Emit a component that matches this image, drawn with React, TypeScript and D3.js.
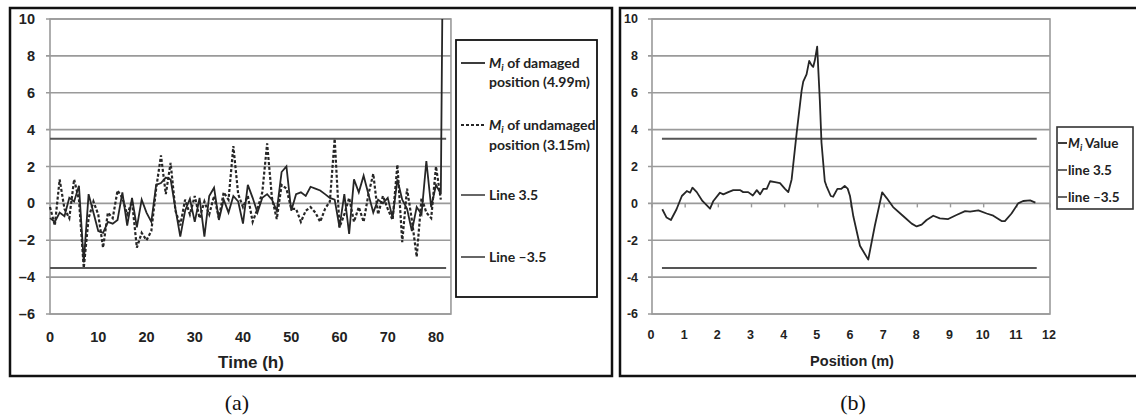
import React from "react";
import * as d3 from "d3";

// ---------- Data: chart (a) ----------
const hoursA: number[] = [
  0, 1, 2, 3, 4, 5, 6, 7, 8, 9, 10, 11, 12, 13, 14, 15, 16, 17, 18, 19, 20,
  21, 22, 23, 24, 25, 26, 27, 28, 29, 30, 31, 32, 33, 34, 35, 36, 37, 38, 39, 40,
  41, 42, 43, 44, 45, 46, 47, 48, 49, 50, 51, 52, 53, 54, 55, 56, 57, 58, 59, 60,
  61, 62, 63, 64, 65, 66, 67, 68, 69, 70, 71, 72, 73, 74, 75, 76, 77, 78, 79, 80, 81,
];
const damagedMi: number[] = [
  -0.8, -1.0, -0.5, -0.7, 0.3, 0.1, 0.95, -3.2, 0.5, -0.5, -1.5, -1.6, -1.0, -1.1,
  -0.9, 0.6, -1.2, 0.3, -1.3, 0.2, -0.5, -1.0, 1.0, 1.1, 1.4, 1.3, -0.3, -1.8,
  -0.4, 0.25, -1.0, 0.3, -1.8, 0.4, 0.85, -0.9, 0.2, -0.5, 0.4, 0.1, -1.1, 1.0,
  0.3, -0.5, 0.3, 0.5, 0.2, -0.4, 1.7, 2.0, -0.4, 0.5, 0.6, 0.4, 0.9, 0.8, 0.7,
  0.5, 0.3, 0.2, -1.3, 0.5, -1.65, 1.3, 0.6, 1.5, 0.5, -0.5, 0.2, 0.0, 0.3, -0.8,
  1.3, 0.2, -0.3, -1.5, -0.2, -0.6, 2.3, -0.2, 1.0, 0.5,
];
// final spike of the damaged series at the right edge
const damagedTailHour: number[] = [81.3];
const damagedTailValue: number[] = [10];
const undamagedMi: number[] = [
  -0.2, -1.2, 1.3, -0.3, -0.8, 1.3, 0.2, -3.5, -0.8, 0.1, -0.6, -2.4, -0.5, -0.8,
  0.7, 0.3, -0.6, 0.1, -2.4, -1.6, -2.0, -1.5, 0.8, 2.6, 0.5, 2.2, -0.4, -1.2,
  0.2, -0.6, 0.4, -0.8, 0.1, -0.6, 0.4, -0.8, 0.6, 0.2, 3.1, 0.5, -0.2, 0.4,
  -1.0, -0.3, 0.6, 3.25, 0.3, -0.85, 1.0, 0.8, -0.3, -0.3, -1.0, -0.4, -0.2,
  -0.5, -1.0, -0.3, 0.1, 3.5, -1.3, -0.6, 0.3, -1.0, -0.2, -1.0, 0.5, 1.6, -0.6,
  0.4, -0.3, -0.9, 2.1, -2.1, 0.8, -0.9, -2.9, 0.3, -0.5, -0.8, 2.0, 0.2,
];
const thresholdSpanA: number[] = [0, 82.1];
const xTicksA: number[] = [0, 10, 20, 30, 40, 50, 60, 70, 80];
const yTicks: number[] = [-6, -4, -2, 0, 2, 4, 6, 8, 10];
const thresholds: number[] = [3.5, -3.5];

// ---------- Data: chart (b) ----------
const positionsB: number[] = [
  0.31, 0.44, 0.57, 0.74, 0.9, 1.05, 1.15, 1.22, 1.35, 1.52, 1.75, 1.85, 2.05,
  2.15, 2.3, 2.45, 2.65, 2.75, 2.9, 3.04, 3.16, 3.26, 3.36, 3.46, 3.56, 3.71,
  3.86, 4.01, 4.11, 4.21, 4.36, 4.51, 4.56, 4.66, 4.74, 4.81, 4.86, 4.91, 4.98,
  5.06, 5.11, 5.21, 5.26, 5.39, 5.46, 5.59, 5.71, 5.81, 5.9, 5.97, 6.07, 6.27,
  6.52, 6.72, 6.94, 7.07, 7.27, 7.58, 7.83, 7.98, 8.13, 8.28, 8.48, 8.68, 8.93,
  9.18, 9.44, 9.59, 9.84, 10.09, 10.29, 10.54, 10.64, 10.84, 11.04, 11.19, 11.4,
  11.56,
];
const miValues: number[] = [
  -0.32, -0.77, -0.9, -0.32, 0.4, 0.67, 0.58, 0.85, 0.61, 0.13, -0.29, 0.13, 0.58,
  0.49, 0.61, 0.72, 0.72, 0.61, 0.61, 0.43, 0.72, 0.49, 0.79, 0.79, 1.2, 1.15,
  1.1, 0.79, 0.61, 1.3, 3.8, 6.1, 6.6, 7.0, 7.73, 7.5, 7.4, 7.76, 8.5, 5.6, 3.3,
  1.2, 0.94, 0.4, 0.36, 0.79, 0.79, 0.94, 0.8, 0.4, -0.7, -2.3, -3.05, -1.2, 0.6,
  0.3, -0.2, -0.7, -1.1, -1.25, -1.15, -0.9, -0.67, -0.81, -0.85, -0.63, -0.42,
  -0.45, -0.38, -0.55, -0.67, -0.96, -0.96, -0.55, 0.0, 0.13, 0.16, 0.04,
];
const thresholdSpanB: number[] = [0.3, 11.6];
const xTicksB: number[] = [0, 1, 2, 3, 4, 5, 6, 7, 8, 9, 10, 11, 12];

const TICK_FONT = "'Liberation Sans', Arial, sans-serif";
const LEG_FONT = "Lato, 'Liberation Sans', sans-serif";
const SERIES = "#262626";
const GRID = "#9a9a9a";
const THR = "#555";

function Mi({ size }: { size: number }) {
  return (
    <>
      <tspan fontStyle="italic">M</tspan>
      <tspan fontStyle="italic" fontSize={size * 0.7} dy={3}>i</tspan>
      <tspan dy={-3}> </tspan>
    </>
  );
}

export default function App() {
  // chart (a) scales
  const xA = d3.scaleLinear().domain([0, 80]).range([50, 436]);
  const yA = d3.scaleLinear().domain([-6, 10]).range([314, 19]);
  const lineA = d3
    .line<[number, number]>()
    .x((d) => xA(d[0]))
    .y((d) => yA(d[1]));
  const dmgPts: [number, number][] = hoursA.map((h, i) => [h, damagedMi[i]]);
  damagedTailHour.forEach((h, i) => dmgPts.push([h, damagedTailValue[i]]));
  const undPts: [number, number][] = hoursA.map((h, i) => [h, undamagedMi[i]]);
  const plotRightA = xA(83.1);

  // chart (b) scales
  const xB = d3.scaleLinear().domain([0, 12]).range([652, 1050]);
  const yB = d3.scaleLinear().domain([-6, 10]).range([314, 19]);
  const lineB = d3
    .line<[number, number]>()
    .x((d) => xB(d[0]))
    .y((d) => yB(d[1]));
  const miPts: [number, number][] = positionsB.map((p, i) => [p, miValues[i]]);

  const legA = 14;
  const legB = 13.5;

  return (
    <svg width={1136} height={418} style={{ position: "absolute", left: 0, top: 0 }}>
      <rect x={0} y={0} width={1136} height={418} fill="#fff" />

      {/* ---------- Chart (a) ---------- */}
      <rect x={10} y={8} width={602} height={368} fill="none" stroke="#111" strokeWidth={2.5} />
      {yTicks.map((t) => (
        <line key={"ga" + t} x1={xA(0) - 4} x2={plotRightA} y1={yA(t)} y2={yA(t)} stroke={GRID} strokeWidth={1.6} />
      ))}
      <rect x={xA(0)} y={yA(10)} width={plotRightA - xA(0)} height={yA(-6) - yA(10)} fill="none" stroke={GRID} strokeWidth={1.6} />
      {thresholds.map((t) => (
        <line key={"ta" + t} x1={xA(thresholdSpanA[0])} x2={xA(thresholdSpanA[1])} y1={yA(t)} y2={yA(t)} stroke={THR} strokeWidth={2} />
      ))}
      <path d={lineA(undPts) || ""} fill="none" stroke={SERIES} strokeWidth={2.2} strokeDasharray="3,2" />
      <path d={lineA(dmgPts) || ""} fill="none" stroke={SERIES} strokeWidth={1.8} />
      {yTicks.map((t) => (
        <text key={"ya" + t} x={35} y={yA(t)} dy="0.35em" textAnchor="end" fontFamily={TICK_FONT} fontWeight="bold" fontSize={14.5} fill="#222">
          {t < 0 ? "\u2013" + Math.abs(t) : t}
        </text>
      ))}
      {xTicksA.map((t) => (
        <text key={"xa" + t} x={xA(t)} y={337} dy="0.35em" textAnchor="middle" fontFamily={TICK_FONT} fontWeight="bold" fontSize={14.5} fill="#222">
          {t}
        </text>
      ))}
      <text x={251} y={362} dy="0.35em" textAnchor="middle" fontFamily={TICK_FONT} fontWeight="bold" fontSize={17} fill="#222">
        Time (h)
      </text>

      {/* legend (a) */}
      <rect x={456} y={40} width={141} height={257} fill="#fff" stroke="#111" strokeWidth={1.8} />
      <line x1={461} x2={485} y1={63} y2={63} stroke={SERIES} strokeWidth={1.8} />
      <text x={489} y={63} dy="0.35em" fontFamily={LEG_FONT} fontWeight="bold" fontSize={legA} fill="#222">
        <Mi size={legA} />of damaged
      </text>
      <text x={489} y={82} dy="0.35em" fontFamily={LEG_FONT} fontWeight="bold" fontSize={legA} fill="#222">
        position (4.99m)
      </text>
      <line x1={461} x2={485} y1={125} y2={125} stroke={SERIES} strokeWidth={1.8} strokeDasharray="3,2" />
      <text x={489} y={125} dy="0.35em" fontFamily={LEG_FONT} fontWeight="bold" fontSize={legA} fill="#222">
        <Mi size={legA} />of undamaged
      </text>
      <text x={489} y={145} dy="0.35em" fontFamily={LEG_FONT} fontWeight="bold" fontSize={legA} fill="#222">
        position (3.15m)
      </text>
      <line x1={461} x2={485} y1={195} y2={195} stroke={THR} strokeWidth={1.8} />
      <text x={489} y={195} dy="0.35em" fontFamily={LEG_FONT} fontWeight="bold" fontSize={legA} fill="#222">
        Line 3.5
      </text>
      <line x1={461} x2={485} y1={257} y2={257} stroke={THR} strokeWidth={1.8} />
      <text x={489} y={257} dy="0.35em" fontFamily={LEG_FONT} fontWeight="bold" fontSize={legA} fill="#222">
        Line {"\u2013"}3.5
      </text>

      {/* ---------- Chart (b) ---------- */}
      <rect x={620} y={8} width={530} height={368} fill="none" stroke="#111" strokeWidth={2.5} />
      {yTicks.map((t) => (
        <line key={"gb" + t} x1={xB(0) - 4} x2={xB(12)} y1={yB(t)} y2={yB(t)} stroke={GRID} strokeWidth={1.6} />
      ))}
      <rect x={xB(0)} y={yB(10)} width={xB(12) - xB(0)} height={yB(-6) - yB(10)} fill="none" stroke={GRID} strokeWidth={1.6} />
      {xTicksB.map((t) => (
        <line key={"tb" + t} x1={xB(t)} x2={xB(t)} y1={yB(0)} y2={yB(0) + 4} stroke={GRID} strokeWidth={1.4} />
      ))}
      {thresholds.map((t) => (
        <line key={"thb" + t} x1={xB(thresholdSpanB[0])} x2={xB(thresholdSpanB[1])} y1={yB(t)} y2={yB(t)} stroke={THR} strokeWidth={2} />
      ))}
      <path d={lineB(miPts) || ""} fill="none" stroke={SERIES} strokeWidth={1.8} strokeLinejoin="round" />
      {yTicks.map((t) => (
        <text key={"yb" + t} x={638} y={yB(t)} dy="0.35em" textAnchor="end" fontFamily={TICK_FONT} fontWeight="bold" fontSize={12.5} fill="#222">
          {t}
        </text>
      ))}
      {xTicksB.map((t) => (
        <text key={"xb" + t} x={xB(t) - 1} y={335} dy="0.35em" textAnchor="middle" fontFamily={TICK_FONT} fontWeight="bold" fontSize={12.5} fill="#222">
          {t}
        </text>
      ))}
      <text x={852} y={361} dy="0.35em" textAnchor="middle" fontFamily={TICK_FONT} fontWeight="bold" fontSize={14.5} fill="#222">
        Position (m)
      </text>

      {/* legend (b) */}
      <rect x={1057} y={127} width={76} height={82} fill="#fff" stroke="#333" strokeWidth={1.6} />
      <line x1={1058} x2={1067} y1={143} y2={143} stroke={SERIES} strokeWidth={1.8} />
      <text x={1068} y={143} dy="0.35em" fontFamily={LEG_FONT} fontWeight="bold" fontSize={legB} fill="#222">
        <tspan fontStyle="italic">M</tspan>
        <tspan fontStyle="italic" fontSize={legB * 0.7} dy={3}>i</tspan>
        <tspan dy={-3}> Value</tspan>
      </text>
      <line x1={1058} x2={1067} y1={170} y2={170} stroke={THR} strokeWidth={1.8} />
      <text x={1068} y={170} dy="0.35em" fontFamily={LEG_FONT} fontWeight="bold" fontSize={legB} fill="#222">
        line 3.5
      </text>
      <line x1={1058} x2={1067} y1={197} y2={197} stroke={THR} strokeWidth={1.8} />
      <text x={1068} y={197} dy="0.35em" fontFamily={LEG_FONT} fontWeight="bold" fontSize={legB} fill="#222">
        line {"\u2013"}3.5
      </text>

      {/* captions */}
      <text x={237} y={410} textAnchor="middle" fontFamily="'Liberation Serif', 'Times New Roman', serif" fontSize={22} fill="#111">
        (a)
      </text>
      <text x={853} y={410} textAnchor="middle" fontFamily="'Liberation Serif', 'Times New Roman', serif" fontSize={22} fill="#111">
        (b)
      </text>
    </svg>
  );
}
